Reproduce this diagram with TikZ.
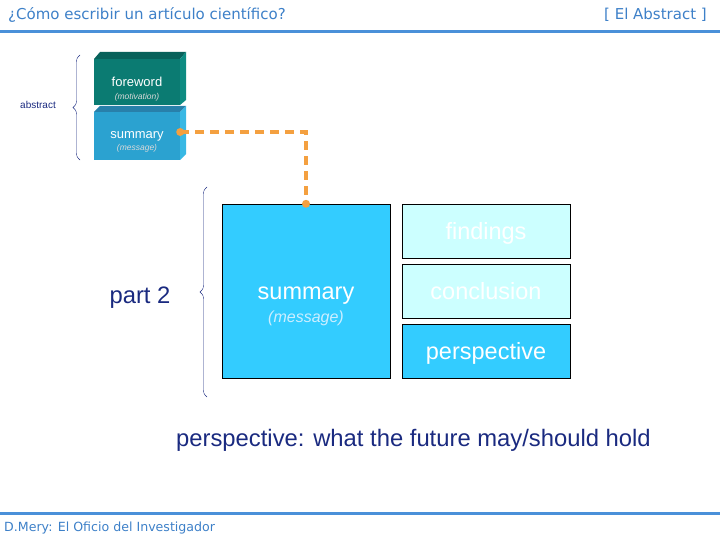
\documentclass[tikz,border=0pt]{standalone}
\usepackage{fontspec}
\setmainfont{Liberation Sans}
\newfontfamily\headfont{DejaVu Sans}
\usetikzlibrary{positioning,decorations.pathreplacing,calc}
\definecolor{hdr}{HTML}{4A90D9}
\definecolor{hdrtxt}{HTML}{3D80C8}
\definecolor{navy}{HTML}{1A2A80}
\definecolor{skyc}{HTML}{33CCFF}
\definecolor{palec}{HTML}{CCFFFF}
\definecolor{msgc}{HTML}{CCEEFF}
\definecolor{tealf}{HTML}{0B7B72}
\definecolor{tealt}{HTML}{08625B}
\definecolor{tealr}{HTML}{0D8C82}
\definecolor{bluef}{HTML}{2BA2D0}
\definecolor{bluet}{HTML}{2880AA}
\definecolor{bluer}{HTML}{38B8E4}
\definecolor{dashc}{HTML}{F4A040}
\tikzset{
  part/.style={draw=black, thin, fill=skyc, inner sep=0pt, minimum width=168pt, minimum height=54pt, text depth=0pt, text=white, font=\fontsize{23.5}{26}\selectfont},
  pale/.style={part, fill=palec, text=white},
  face/.style={inner sep=0pt, minimum width=86pt, text=white, font=\fontsize{13}{15}\selectfont},
  sub/.style={inner sep=0pt, text=white!85!black, font=\fontsize{8.5}{9}\itshape},
  brace/.style={decorate, decoration={brace, amplitude=7pt}, navy, thin},
  link/.style={dashc, line width=3.5pt, dash pattern=on 9pt off 6pt},
  tip/.style={circle, fill=dashc, inner sep=0pt, minimum size=8pt},
  bar/.style={hdr, line width=3pt},
  big/.style={navy, inner sep=0pt, font=\fontsize{23.8}{26}\selectfont},
}
\begin{document}
\begin{tikzpicture}[x=1pt, y=-1pt]
  \useasboundingbox (0,0) rectangle (720,540);
  % header and footer
  \draw[bar] (0,32) -- (720,32);
  \draw[bar] (0,513) -- (720,513);
  \node[anchor=west, inner sep=0pt, text=hdrtxt, font=\headfont\fontsize{15}{17}\selectfont] (title) at (8,15) {¿Cómo escribir un artículo científico?};
  \node[anchor=east, inner sep=0pt, text=hdrtxt, font=\headfont\fontsize{15}{17}\selectfont] (topic) at (707,15) {[ El Abstract ]};
  \node[anchor=west, inner sep=0pt, text=hdrtxt, font=\headfont\fontsize{12.6}{14}\selectfont] (foot) at (4,528) {D.Mery: El Oficio del Investigador};
  % abstract blocks
  \fill[tealt] (94,59) -- (100,52) -- (186,52) -- (180,59) -- cycle;
  \fill[tealr] (180,59) -- (186,52) -- (186,100) -- (180,105) -- cycle;
  \node[face, fill=tealf, minimum height=46pt] (fwd) at (137,82) {foreword};
  \node[sub] (fwdsub) at ([yshift=-15pt]fwd.center) {(motivation)};
  \fill[bluet] (94,112) -- (100,106) -- (186,106) -- (180,112) -- cycle;
  \fill[bluer] (180,112) -- (186,106) -- (186,154) -- (180,160) -- cycle;
  \node[face, fill=bluef, minimum height=48pt] (absum) at (137,136) {summary};
  \node[sub] (absumsub) at ([yshift=-12.5pt]absum.center) {(message)};
  \draw[brace] (80,160) -- (80,55);
  \node[navy, inner sep=0pt, font=\fontsize{10}{11}\selectfont] (abslbl) at (38,105) {abstract};
  % part 2
  \node[part, minimum height=174pt] (sumbox) at (306,291) {};
  \node[inner sep=0pt, text=white, font=\fontsize{23.5}{26}\selectfont] (sumtxt) at ([yshift=-5pt]sumbox.center) {summary};
  \node[inner sep=0pt, text=msgc, font=\fontsize{16}{18}\itshape] (summsg) at ([yshift=-27pt]sumbox.center) {(message)};
  \node[pale] (find) at (486,231) {findings};
  \node[pale] (concl) at (486,291) {conclusion};
  \node[part] (persp) at (486,351) {perspective};
  \draw[brace] (207,397) -- (207,187);
  \node[big] (partlbl) at (140,298) {part 2};
  % link
  \draw[link] ([yshift=4pt]absum.east) -| (sumbox.north);
  \node[tip] at ([yshift=4pt]absum.east) {};
  \node[tip] at (sumbox.north) {};
  \node[big, anchor=west] (note) at (176,440) {perspective: what the future may/should hold};
\end{tikzpicture}
\end{document}
